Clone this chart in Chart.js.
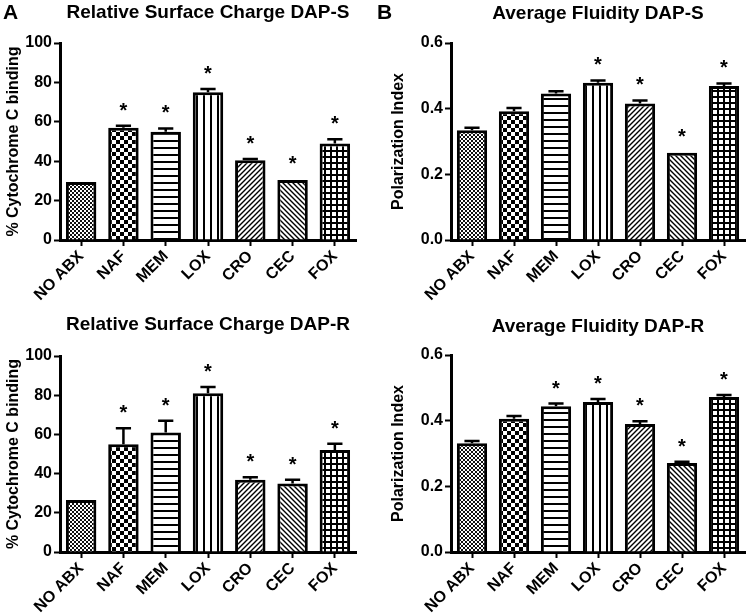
<!DOCTYPE html>
<html>
<head>
<meta charset="utf-8">
<script src="https://cdn.jsdelivr.net/npm/chart.js@4.4.0/dist/chart.umd.min.js"></script>
<style>
  body { margin: 0; background: #fff; }
  #painel { position: relative; width: 750px; height: 614px; overflow: hidden; background: #fff; }
  .quadro { position: absolute; }
  .letra { position: absolute; font: bold 21px Arial, "Liberation Sans", sans-serif; color: #000; }
</style>
</head>
<body>
<div id="painel">
  <canvas id="cargaS" class="quadro" width="375" height="307" style="left:0;top:0"></canvas>
  <canvas id="fluidezS" class="quadro" width="375" height="307" style="left:375px;top:0"></canvas>
  <canvas id="cargaR" class="quadro" width="375" height="307" style="left:0;top:307px"></canvas>
  <canvas id="fluidezR" class="quadro" width="375" height="307" style="left:375px;top:307px"></canvas>
  <div class="letra" style="left:3px;top:0">A</div>
  <div class="letra" style="left:377px;top:0">B</div>
</div>
<script>
// Dados
const categorias = ['NO ABX', 'NAF', 'MEM', 'LOX', 'CRO', 'CEC', 'FOX'];

const cargaS = [29.5, 57, 55, 75, 40.5, 30.5, 49];
const cargaSErro = [0.3, 1, 1.6, 1.6, 0.6, 0.4, 2.1];
const cargaSSig = [false, true, true, true, true, true, true];

const cargaR = [26.5, 55, 61, 81, 36.8, 35, 52];
const cargaRErro = [0.3, 8.2, 6, 3.2, 1.4, 1.9, 3.2];
const cargaRSig = [false, true, true, true, true, true, true];

const fluidezS = [0.334, 0.392, 0.446, 0.479, 0.416, 0.266, 0.469];
const fluidezSErro = [0.008, 0.01, 0.007, 0.007, 0.009, 0.003, 0.008];
const fluidezSSig = [false, false, false, true, true, true, true];

const fluidezR = [0.331, 0.406, 0.444, 0.457, 0.39, 0.271, 0.472];
const fluidezRErro = [0.007, 0.008, 0.008, 0.009, 0.008, 0.004, 0.006];
const fluidezRSig = [false, false, true, true, true, true, true];

const ticksCarga = [0, 20, 40, 60, 80, 100];
const ticksFluidez = [0, 0.2, 0.4, 0.6];

const FONTE = 'Arial, "Liberation Sans", sans-serif';

// Padrões de preenchimento das barras
function criarPadrao(tipo) {
    const c = document.createElement('canvas');
    const g = c.getContext('2d');
    if (tipo === 'pontos') {
        c.width = 4; c.height = 4;
        g.fillStyle = '#fff'; g.fillRect(0, 0, 4, 4);
        g.fillStyle = '#111';
        g.fillRect(0, 0, 2, 2); g.fillRect(2, 2, 2, 2);
    } else if (tipo === 'xadrez') {
        c.width = 8; c.height = 8;
        g.fillStyle = '#000'; g.fillRect(0, 0, 8, 8);
        g.fillStyle = '#fff';
        g.fillRect(4, 0, 4, 4); g.fillRect(0, 4, 4, 4);
    } else if (tipo === 'horizontal') {
        c.width = 1; c.height = 7;
        g.fillStyle = '#fff'; g.fillRect(0, 0, 1, 7);
        g.fillStyle = '#000'; g.fillRect(0, 0, 1, 2);
    } else if (tipo === 'vertical') {
        c.width = 7; c.height = 1;
        g.fillStyle = '#fff'; g.fillRect(0, 0, 7, 1);
        g.fillStyle = '#000'; g.fillRect(0, 0, 2, 1);
    } else if (tipo === 'diag1' || tipo === 'diag2') {
        const n = 5;
        c.width = n; c.height = n;
        g.fillStyle = '#fff'; g.fillRect(0, 0, n, n);
        g.strokeStyle = '#000'; g.lineWidth = 1.4;
        if (tipo === 'diag2') { g.translate(n, 0); g.scale(-1, 1); }
        g.beginPath();
        g.moveTo(-1, n + 1); g.lineTo(n + 1, -1);
        g.moveTo(-1, 1); g.lineTo(1, -1);
        g.moveTo(n - 1, n + 1); g.lineTo(n + 1, n - 1);
        g.stroke();
    } else if (tipo === 'grade') {
        c.width = 6; c.height = 6;
        g.fillStyle = '#fff'; g.fillRect(0, 0, 6, 6);
        g.fillStyle = '#000';
        g.fillRect(0, 0, 6, 2); g.fillRect(0, 0, 2, 6);
    }
    return g.createPattern(c, 'repeat');
}

const padroes = ['pontos', 'xadrez', 'horizontal', 'vertical', 'diag1', 'diag2', 'grade'].map(criarPadrao);

// Barras de erro e asteriscos
const pluginErro = {
    id: 'barrasErro',
    afterDatasetsDraw(chart) {
        const ctx = chart.ctx;
        const y = chart.scales.y;
        const ds = chart.data.datasets[0];
        const meta = chart.getDatasetMeta(0);
        ctx.save();
        ctx.strokeStyle = '#000';
        ctx.fillStyle = '#000';
        ctx.lineWidth = 2.5;
        meta.data.forEach((barra, i) => {
            const base = y.getPixelForValue(ds.data[i]);
            const topo = y.getPixelForValue(ds.data[i] + ds.erro[i]);
            const meia = barra.width / 4;
            if (base - topo > 1) {
                ctx.beginPath();
                ctx.moveTo(barra.x, base);
                ctx.lineTo(barra.x, topo);
                ctx.moveTo(barra.x - meia, topo);
                ctx.lineTo(barra.x + meia, topo);
                ctx.stroke();
            }
            if (ds.sig[i]) {
                ctx.font = 'bold 20px ' + FONTE;
                ctx.textAlign = 'center';
                ctx.textBaseline = 'alphabetic';
                ctx.fillText('*', barra.x, topo - 9);
            }
        });
        ctx.restore();
    }
};

function criarGrafico(id, titulo, valores, erros, sig, yTitulo, ticks, casas, caixa) {
    const canvas = document.getElementById(id);
    const W = canvas.width, H = canvas.height;
    const alturaTitulo = 19 * 1.2;
    const padTopo = caixa.tituloY - alturaTitulo / 2;
    const padBaixo = caixa.topo - padTopo - alturaTitulo;

    return new Chart(canvas, {
        type: 'bar',
        data: {
            labels: categorias,
            datasets: [{
                data: valores,
                erro: erros,
                sig: sig,
                backgroundColor: padroes,
                borderColor: '#000',
                borderWidth: 3,
                barPercentage: 0.72,
                categoryPercentage: 1
            }]
        },
        options: {
            responsive: false,
            animation: false,
            events: [],
            layout: { padding: { left: 0, top: 0, bottom: 0, right: W - caixa.direita } },
            plugins: {
                legend: { display: false },
                tooltip: { enabled: false },
                title: {
                    display: true,
                    text: titulo,
                    fullSize: false,
                    color: '#000',
                    font: { family: FONTE, size: 19, weight: 'bold' },
                    padding: { top: padTopo, bottom: padBaixo }
                }
            },
            scales: {
                x: {
                    grid: { drawOnChartArea: false, offset: false, tickLength: 6, tickWidth: 2, tickColor: '#000' },
                    border: { color: '#000', width: 3 },
                    ticks: {
                        color: '#000',
                        font: { family: FONTE, size: 16, weight: 'bold' },
                        minRotation: 45,
                        maxRotation: 45,
                        padding: 1
                    },
                    afterFit: s => { s.height = H - caixa.baixo; }
                },
                y: {
                    min: 0,
                    max: ticks[ticks.length - 1],
                    afterBuildTicks: s => { s.ticks = ticks.map(v => ({ value: v })); },
                    grid: { drawOnChartArea: false, tickLength: 6, tickWidth: 2, tickColor: '#000' },
                    border: { color: '#000', width: 3 },
                    ticks: {
                        color: '#000',
                        font: { family: FONTE, size: 16, weight: 'bold' },
                        padding: 2,
                        callback: v => v.toFixed(casas)
                    },
                    title: {
                        display: true,
                        text: yTitulo,
                        color: '#000',
                        font: { family: FONTE, size: 16, weight: 'bold' },
                        padding: { top: caixa.tituloEixo, bottom: 0 }
                    },
                    afterFit: s => { s.width = caixa.esquerda; }
                }
            }
        },
        plugins: [pluginErro]
    });
}

criarGrafico('cargaS', 'Relative Surface Charge DAP-S', cargaS, cargaSErro, cargaSSig,
    '% Cytochrome C binding', ticksCarga, 0,
    { esquerda: 60, direita: 356, topo: 43, baixo: 240, tituloY: 12.5, tituloEixo: 4 });
criarGrafico('fluidezS', 'Average Fluidity DAP-S', fluidezS, fluidezSErro, fluidezSSig,
    'Polarization Index', ticksFluidez, 1,
    { esquerda: 76, direita: 370, topo: 43, baixo: 240, tituloY: 13.3, tituloEixo: 14 });
criarGrafico('cargaR', 'Relative Surface Charge DAP-R', cargaR, cargaRErro, cargaRSig,
    '% Cytochrome C binding', ticksCarga, 0,
    { esquerda: 60, direita: 356, topo: 49, baixo: 245, tituloY: 17.5, tituloEixo: 4 });
criarGrafico('fluidezR', 'Average Fluidity DAP-R', fluidezR, fluidezRErro, fluidezRSig,
    'Polarization Index', ticksFluidez, 1,
    { esquerda: 76, direita: 370, topo: 48, baixo: 245, tituloY: 19.7, tituloEixo: 14 });
</script>
</body>
</html>
